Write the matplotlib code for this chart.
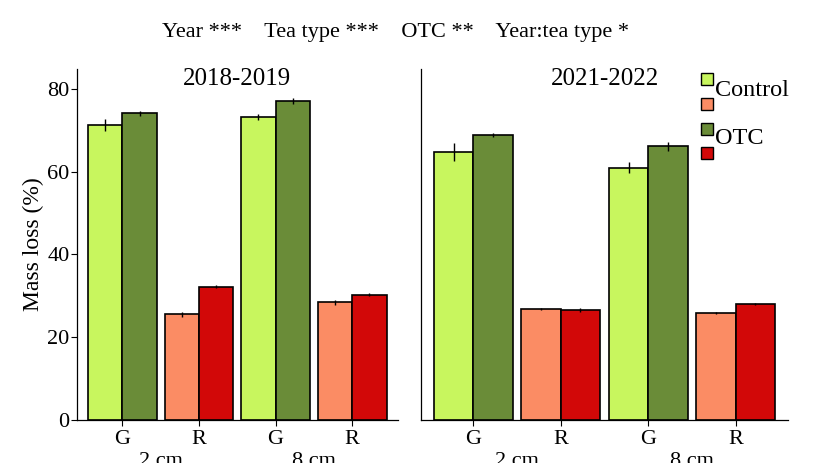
import matplotlib
matplotlib.use("Agg")
import matplotlib.pyplot as plt
import matplotlib.transforms as mtransforms
from matplotlib.patches import Rectangle
import numpy as np

plt.rcParams['font.family'] = ['Liberation Serif', 'DejaVu Serif']

# Categories along the x axis: tea type within burial depth
tea_labels = ["G", "R", "G", "R"]
depth_labels = ["2 cm", "8 cm"]
periods = ["2018-2019", "2021-2022"]

# Mean mass loss (%) and standard errors, per period, for each treatment
control_2018 = [71.3, 25.5, 73.2, 28.5]
control_2018_se = [1.4, 0.5, 0.8, 0.6]
otc_2018 = [74.1, 32.2, 77.1, 30.3]
otc_2018_se = [0.6, 0.3, 0.8, 0.3]

control_2021 = [64.7, 26.8, 61.0, 25.8]
control_2021_se = [2.2, 0.2, 1.3, 0.3]
otc_2021 = [68.9, 26.6, 66.1, 28.0]
otc_2021_se = [0.5, 0.4, 1.1, 0.2]

# Fill colours: green tea (G) and rooibos (R) under control / OTC
col_ctrl_g = "#c8f65e"
col_ctrl_r = "#fb8c64"
col_otc_g = "#6a8c38"
col_otc_r = "#d20808"

W, H = 816, 463
fig = plt.figure(figsize=(W / 100, H / 100), dpi=100)

def px_box(x0, x1, y_top, y_bot):
    return [x0 / W, 1 - y_bot / H, (x1 - x0) / W, (y_bot - y_top) / H]

ax_left = fig.add_axes(px_box(76.5, 398, 69, 420))
ax_right = fig.add_axes(px_box(421, 788, 69, 420))

panels = [
    (ax_left, periods[0], control_2018, control_2018_se, otc_2018, otc_2018_se),
    (ax_right, periods[1], control_2021, control_2021_se, otc_2021, otc_2021_se),
]

x = np.arange(1, len(tea_labels) + 1)
bw = 0.45
ctrl_cols = [col_ctrl_g if t == "G" else col_ctrl_r for t in tea_labels]
otc_cols = [col_otc_g if t == "G" else col_otc_r for t in tea_labels]

for i, (ax, period, ctrl, ctrl_se, otc, otc_se) in enumerate(panels):
    ax.bar(x - bw / 2, ctrl, width=bw, color=ctrl_cols, edgecolor="black",
           linewidth=1.2, zorder=2)
    ax.bar(x + bw / 2, otc, width=bw, color=otc_cols, edgecolor="black",
           linewidth=1.2, zorder=2)
    ax.errorbar(x - bw / 2, ctrl, yerr=ctrl_se, fmt="none", ecolor="black",
                elinewidth=1.0, capsize=0, zorder=3)
    ax.errorbar(x + bw / 2, otc, yerr=otc_se, fmt="none", ecolor="black",
                elinewidth=1.0, capsize=0, zorder=3)

    ax.set_xlim(0.4, 4.6)
    ax.set_ylim(0, 84.8)
    ax.set_xticks(x)
    ax.set_xticklabels(tea_labels, fontsize=16)
    ax.tick_params(axis="x", length=4, width=0.8, pad=3)
    for s in ("top", "right"):
        ax.spines[s].set_visible(False)
    for s in ("left", "bottom"):
        ax.spines[s].set_linewidth(0.9)

    if i == 0:
        ax.set_yticks([0, 20, 40, 60, 80])
        ax.tick_params(axis="y", labelsize=16, length=4, width=0.8, pad=1)
        ax.set_ylabel("Mass loss (%)", fontsize=17, labelpad=2)
    else:
        ax.set_yticks([])

    ax.text(0.5, 1 - 10 / 351, period, transform=ax.transAxes, ha="center",
            va="center", fontsize=18)

    # depth labels under each G/R pair
    trans = mtransforms.blended_transform_factory(ax.transData, fig.transFigure)
    for j, d in enumerate(depth_labels):
        xc = (x[2 * j] + x[2 * j + 1]) / 2
        ax.text(xc, 1 - 452 / H, d, transform=trans, ha="center", va="top",
                fontsize=16)

# model terms above the panels
fig.text(396 / W, 1 - 32 / H,
         "Year ***    Tea type ***    OTC **    Year:tea type *",
         ha="center", va="center", fontsize=16)

# treatment key
key_cols = [col_ctrl_g, col_ctrl_r, col_otc_g, col_otc_r]
key_tops = [73, 98, 123, 147]
for c, yt in zip(key_cols, key_tops):
    fig.patches.append(Rectangle((701 / W, 1 - (yt + 12) / H), 12 / W, 12 / H,
                                 facecolor=c, edgecolor="black", linewidth=1.0,
                                 transform=fig.transFigure, figure=fig))
fig.text(715 / W, 1 - 91 / H, "Control", ha="left", va="center", fontsize=17.5)
fig.text(715 / W, 1 - 139 / H, "OTC", ha="left", va="center", fontsize=17.5)

fig.savefig("out.png", dpi=100)
